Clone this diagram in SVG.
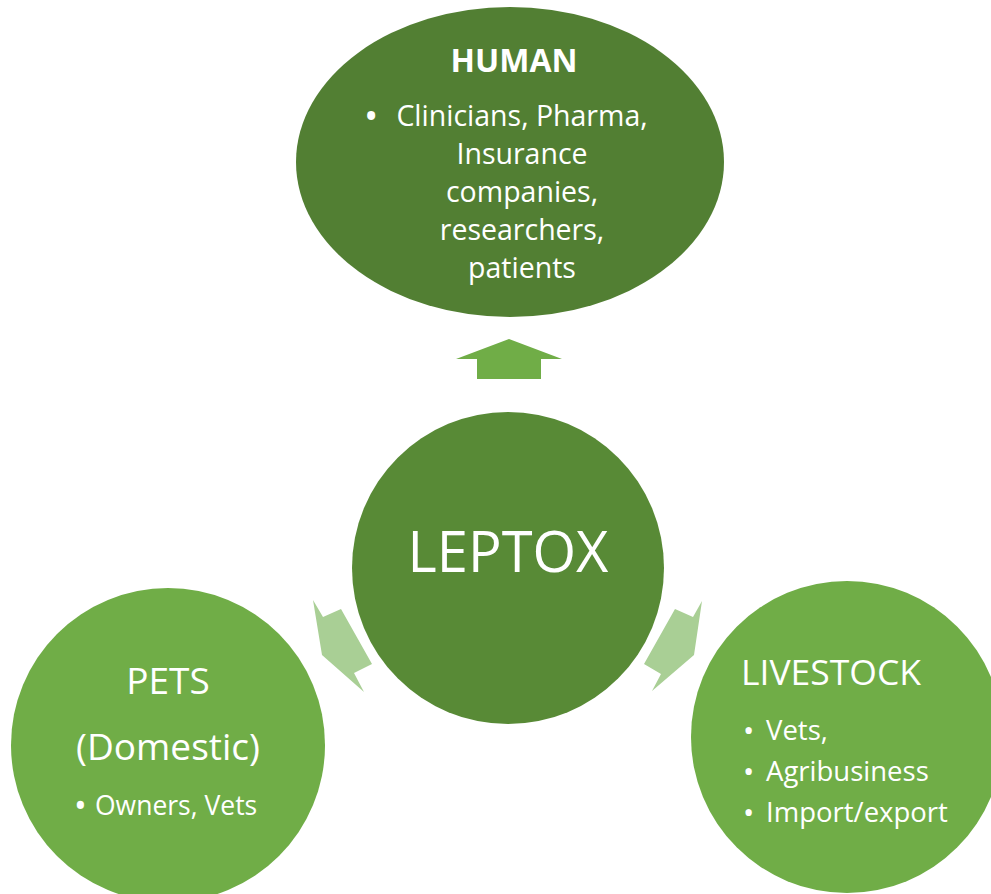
<svg xmlns="http://www.w3.org/2000/svg" width="991" height="894" viewBox="0 0 991 894">
<style>
text{font-family:"Open Sans","Noto Sans","Liberation Sans",sans-serif;fill:#fff}
.c{text-anchor:middle}
.b{font-size:30px}
.arr{fill:#A9CF95}
</style>
<rect width="991" height="894" fill="#fff"/>
<g id="connectors">
<polygon points="509,339 562,359 541,359 541,379 477,379 477,359 456,359" fill="#70AD47"/>
<polygon class="arr" points="313,600 323,617 341,609 372,664 354,673 364,692 322,655"/>
<polygon class="arr" points="702,601 693,617 675,609 644,664 661,674 652,691 694,655"/>
</g>
<g id="human">
<ellipse cx="510" cy="162" rx="214" ry="155" fill="#527F33"/>
<text class="c" x="514" y="72" font-size="32" font-weight="bold">HUMAN</text>
<text font-size="28.5"><tspan x="364" y="130" style="font-size:38px">•</tspan><tspan class="c" x="522" y="126">Clinicians, Pharma,</tspan><tspan class="c" x="522" y="164">Insurance</tspan><tspan class="c" x="522" y="202">companies,</tspan><tspan class="c" x="522" y="240">researchers,</tspan><tspan class="c" x="522" y="278">patients</tspan></text>
</g>
<g id="leptox">
<circle cx="508" cy="568" r="156" fill="#588A36"/>
<text class="c" x="508" y="572" font-size="56">LEPTOX</text>
</g>
<g id="pets">
<circle cx="168" cy="745" r="157" fill="#70AD47"/>
<text class="c" x="168" y="694" font-size="37">PETS</text>
<text class="c" x="168" y="760" font-size="37">(Domestic)</text>
<text font-size="26.5"><tspan style="font-size:34px" x="74" y="818">•</tspan><tspan x="95" y="815">Owners, Vets</tspan></text>
</g>
<g id="livestock">
<circle cx="847" cy="737" r="156" fill="#70AD47"/>
<text x="741" y="685" font-size="35.5">LIVESTOCK</text>
<text font-size="27.5"><tspan class="b" x="743" y="741">•</tspan><tspan x="766" y="740">Vets,</tspan><tspan class="b" x="743" y="782">•</tspan><tspan x="766" y="781">Agribusiness</tspan><tspan class="b" x="743" y="823">•</tspan><tspan x="766" y="822">Import/export</tspan></text>
</g>
</svg>
